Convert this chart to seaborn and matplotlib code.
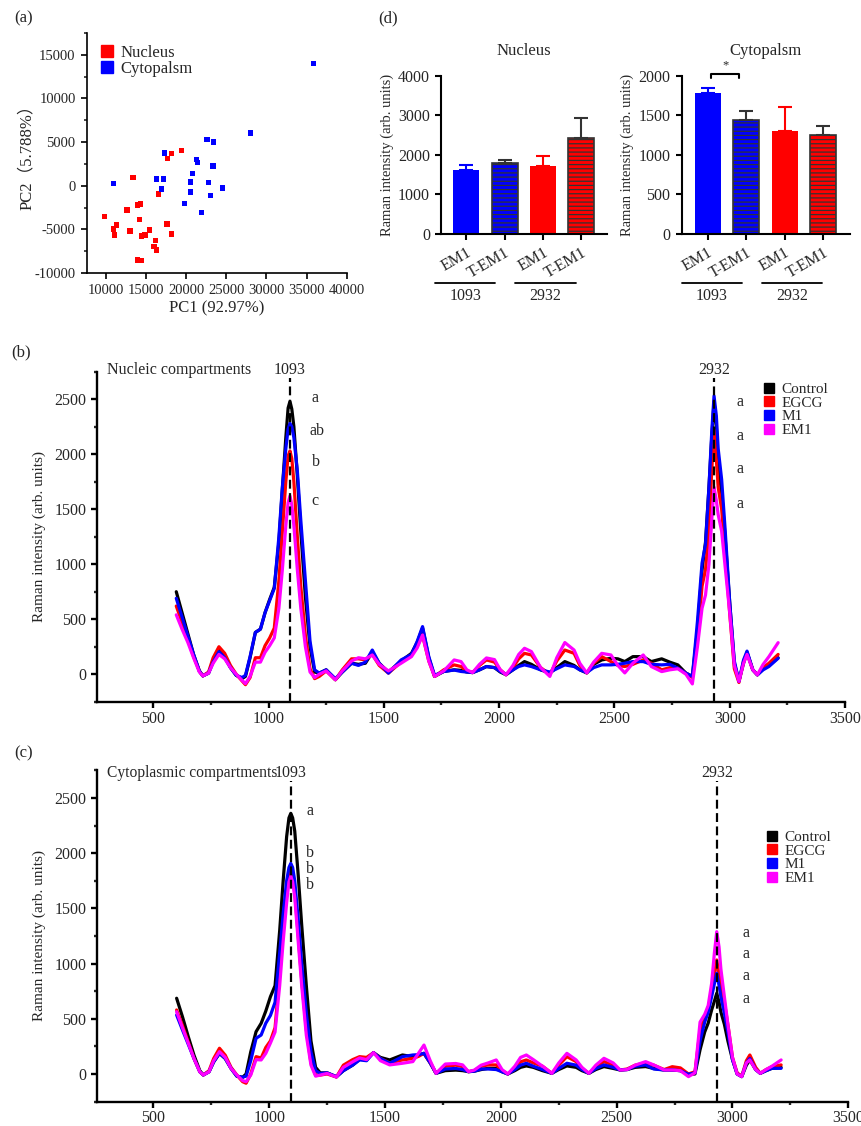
import numpy as np
import pandas as pd
import matplotlib
matplotlib.use('Agg')
import matplotlib.pyplot as plt
import seaborn as sns
from matplotlib.lines import Line2D
from matplotlib.ticker import MultipleLocator

# ---- (a) PCA scores ----
nuc_pc1 = [9792, 10914, 11080, 11330, 12618, 12992, 13365, 13947, 14280, 14155, 13947, 14362,
           14404, 14861, 15402, 16150, 15983, 16274, 16565, 17604, 18144, 17687, 18185, 19432]
nuc_pc2 = [-3524, -4979, -5630, -4519, -2758, -5171, 958, -2183, -2107, -3868, -8503, -8579,
           -5745, -5630, -5056, -6281, -6971, -7354, -958, -4366, -5554, 3102, 3677, 4022]
cyt_pc1 = [10956, 16316, 17147, 16898, 17271, 19806, 20762, 20513, 20555, 21260, 21427, 21925,
           22590, 23380, 22798, 23006, 23338, 24543, 28033, 35844]
cyt_pc2 = [268, 766, 766, -345, 3753, -2030, 1379, 421, -689, 3026, 2681, -3064,
           5285, 5017, 383, -1111, 2260, -268, 6051, 14018]

# ---- (d) peak intensities ----
bar_keys = ['EM1 1093', 'T-EM1 1093', 'EM1 2932', 'T-EM1 2932']
bar_ticks = ['EM1', 'T-EM1', 'EM1', 'T-EM1']
nuc_bar = [1610, 1805, 1729, 2424]
nuc_err = [127, 59, 237, 500]
cyt_bar = [1785, 1436, 1297, 1255]
cyt_err = [68, 118, 311, 109]

# ---- (b),(c) spectra ----
groups = ['Control', 'EGCG', 'M1', 'EM1']
wn = [600, 625, 650, 675, 700, 715, 740, 760, 785, 810,
      835, 860, 885, 900, 920, 943, 965, 985, 1005, 1025,
      1045, 1060, 1075, 1085, 1093, 1101, 1110, 1125, 1140, 1160, 1180, 1200,
      1220, 1250, 1290, 1320, 1360, 1390, 1420, 1450, 1480, 1520,
      1575, 1620, 1645, 1668, 1695, 1720, 1760, 1805, 1835, 1860,
      1885, 1915, 1945, 1980, 2005, 2030, 2060, 2085, 2110, 2140,
      2180, 2220, 2250, 2285, 2325, 2350, 2380, 2410, 2445, 2485,
      2515, 2545, 2580, 2625, 2660, 2705, 2740, 2775, 2810, 2838,
      2860, 2880, 2895, 2910, 2922, 2932, 2942, 2950, 2965, 2980, 3000, 3020,
      3040, 3060, 3075, 3100, 3120, 3145, 3170, 3210]

nuc_control = [750, 560, 370, 180, 30, -15, 10, 120, 225, 160,
               60, -10, -40, -20, 150, 380, 410, 560, 680, 790,
               1200, 1680, 2150, 2420, 2480, 2410, 2250, 1800, 1300, 700, 250, 20,
               10, 40, -50, 20, 100, 90, 100, 200, 100, 20,
               120, 190, 290, 420, 150, -20, 25, 40, 35, 20,
               15, 40, 70, 60, 20, -5, 40, 80, 115, 90,
               40, 10, 60, 115, 80, 40, 12, 90, 130, 145,
               140, 115, 160, 160, 115, 140, 110, 85, 10, -20,
               400, 950, 1200, 1700, 2150, 2480, 2250, 1900, 1650, 1250, 650, 100,
               -60, 100, 200, 40, -5, 50, 80, 150]
nuc_egcg = [620, 470, 320, 160, 30, -15, 20, 150, 250, 190,
            80, 0, -60, -95, -30, 150, 150, 260, 330, 420,
            850, 1300, 1750, 1985, 2030, 1960, 1750, 1250, 800, 350, 50, -40,
            -20, 30, -50, 40, 140, 140, 130, 180, 80, 10,
            110, 170, 260, 350, 120, -20, 40, 85, 70, 30,
            15, 80, 130, 110, 40, -5, 60, 140, 190, 175,
            60, 0, 120, 220, 190, 80, 12, 100, 160, 115,
            80, 70, 90, 130, 100, 40, 60, 55, 10, -30,
            300, 800, 950, 1300, 1850, 2220, 1950, 1700, 1500, 1100, 550, 50,
            -75, 120, 190, 40, -6, 60, 100, 180]
nuc_m1 = [690, 520, 350, 180, 30, -15, 10, 110, 205, 150,
          60, -10, -30, -10, 160, 380, 410, 560, 670, 780,
          1250, 1700, 2050, 2230, 2280, 2250, 2150, 1850, 1400, 850, 300, 40,
          10, 40, -40, 20, 100, 80, 110, 220, 100, 10,
          130, 180, 300, 433, 160, -10, 25, 38, 25, 20,
          15, 40, 70, 60, 25, 0, 40, 70, 85, 70,
          40, 20, 50, 85, 70, 40, 15, 60, 85, 85,
          90, 100, 115, 115, 90, 85, 90, 55, 10, -20,
          480, 1010, 1180, 1700, 2200, 2530, 2350, 2050, 1770, 1320, 650, 120,
          -65, 130, 210, 40, -6, 40, 70, 145]
nuc_em1 = [540, 410, 290, 150, 20, -15, 10, 100, 180, 140,
           60, 0, -55, -85, -20, 110, 110, 200, 260, 330,
           600, 950, 1350, 1560, 1620, 1540, 1350, 950, 600, 250, 20, -30,
           0, 30, -50, 30, 120, 150, 140, 175, 90, 30,
           100, 160, 240, 357, 120, -20, 30, 130, 115, 40,
           15, 90, 148, 133, 40, -6, 80, 180, 236, 206,
           60, -20, 150, 288, 220, 100, 12, 110, 190, 175,
           80, 12, 100, 175, 70, 24, 40, 50, 0, -88,
           250, 600, 720, 1000, 1400, 1700, 1580, 1450, 1300, 980, 560, 80,
           -65, 100, 180, 40, -5, 90, 160, 287]

cyt_control = [686, 520, 340, 170, 30, -9, 20, 110, 187, 140,
               50, -20, -30, 0, 200, 383, 459, 570, 700, 800,
               1300, 1750, 2150, 2320, 2361, 2320, 2200, 1800, 1350, 800, 300, 60,
               10, 10, -25, 30, 80, 133, 130, 193, 150, 127,
               172, 157, 170, 187, 100, 6, 30, 35, 30, 21,
               25, 40, 51, 51, 20, 0, 30, 60, 73, 60,
               30, 6, 40, 73, 60, 30, 6, 40, 67, 50,
               36, 40, 60, 67, 50, 36, 36, 30, -3, 0,
               220, 380, 460, 580, 660, 731, 650, 560, 450, 300, 130, 0,
               -24, 80, 127, 40, 6, 30, 51, 60]
cyt_egcg = [580, 440, 290, 140, 20, -9, 30, 140, 233, 170,
            60, -10, -70, -84, 0, 157, 145, 240, 300, 420,
            900, 1300, 1650, 1810, 1850, 1800, 1650, 1250, 850, 400, 100, -10,
            -10, 0, -28, 80, 130, 157, 150, 193, 140, 100,
            127, 140, 160, 187, 100, 6, 70, 80, 67, 21,
            30, 70, 82, 82, 30, 0, 50, 110, 127, 100,
            70, 6, 80, 157, 112, 50, 6, 60, 112, 80,
            36, 45, 80, 100, 80, 40, 66, 55, 0, 20,
            400, 510, 600, 730, 900, 1033, 900, 800, 650, 450, 150, 10,
            -20, 120, 172, 60, 6, 40, 66, 82]
cyt_m1 = [534, 400, 270, 140, 20, -9, 20, 110, 187, 140,
          50, -20, -30, -20, 120, 323, 353, 460, 530, 650,
          1100, 1450, 1750, 1870, 1908, 1870, 1750, 1400, 1000, 550, 200, 30,
          5, 10, -25, 30, 80, 127, 120, 193, 140, 97,
          157, 172, 175, 187, 100, 6, 45, 50, 40, 21,
          25, 45, 45, 40, 20, 0, 40, 80, 97, 70,
          40, 6, 50, 97, 80, 40, 6, 50, 82, 60,
          36, 40, 70, 82, 45, 36, 36, 30, -3, 10,
          300, 470, 560, 700, 820, 912, 800, 700, 550, 380, 130, 0,
          -24, 100, 140, 40, 6, 30, 51, 51]
cyt_em1 = [564, 420, 280, 140, 20, -9, 20, 120, 202, 150,
           50, -10, -60, -70, -10, 130, 127, 187, 280, 380,
           800, 1200, 1550, 1740, 1790, 1740, 1600, 1200, 800, 350, 80, -20,
           -10, 5, -28, 60, 110, 145, 130, 193, 120, 82,
           97, 112, 190, 262, 120, 6, 90, 95, 82, 21,
           35, 80, 100, 127, 40, 0, 70, 150, 172, 130,
           70, 6, 100, 187, 127, 60, 6, 80, 142, 100,
           36, 40, 80, 112, 82, 36, 36, 30, -24, 10,
           470, 540, 620, 821, 1100, 1289, 1150, 950, 700, 450, 150, 0,
           -24, 100, 127, 40, 6, 40, 70, 127]

spec_colors = {'Control': '#000000', 'EGCG': '#ff0000', 'M1': '#0000ff', 'EM1': '#ff00ff'}

sns.set_style('ticks')
plt.rcParams['font.family'] = ['Liberation Serif', 'Noto Sans CJK SC', 'DejaVu Sans']
plt.rcParams['hatch.linewidth'] = 0.9
plt.rcParams['axes.unicode_minus'] = False

fig = plt.figure(figsize=(8.62, 11.26), dpi=100)

def style_axis(ax, lw=1.5, pad=3.5):
    for s in ['top', 'right']:
        ax.spines[s].set_visible(False)
    for s in ['left', 'bottom']:
        ax.spines[s].set_linewidth(lw)
        ax.spines[s].set_color('black')
    ax.tick_params(which='major', direction='out', length=4.5, width=lw, labelsize=11.5, color='black', pad=pad)
    ax.tick_params(which='minor', direction='out', length=2.5, width=lw)

# ---------------- (a) ----------------
ax = fig.add_axes([0.1006, 0.7575, 0.3016, 0.2132])
pca = pd.DataFrame({'PC1': nuc_pc1 + cyt_pc1, 'PC2': nuc_pc2 + cyt_pc2,
                    'grp': ['Nucleus'] * len(nuc_pc1) + ['Cytopalsm'] * len(cyt_pc1)})
sns.scatterplot(data=pca, x='PC1', y='PC2', hue='grp', palette={'Nucleus': '#ff0000', 'Cytopalsm': '#0000ff'},
                marker='s', s=16, linewidth=0, legend=False, ax=ax)
ax.set_xlim(7600, 40000)
ax.set_ylim(-10000, 17500)
ax.set_xticks([10000, 15000, 20000, 25000, 30000, 35000, 40000])
ax.set_yticks([-10000, -5000, 0, 5000, 10000, 15000])
ax.yaxis.set_minor_locator(MultipleLocator(2500))
style_axis(ax, 1.2)
ax.tick_params(labelsize=10.5)
ax.set_xlabel('PC1 (92.97%)', fontsize=12, labelpad=2)
ax.set_ylabel('PC2（5.788%）', fontsize=12, labelpad=0)
hnd = [Line2D([], [], marker='s', ls='', color='#ff0000', markersize=9),
       Line2D([], [], marker='s', ls='', color='#0000ff', markersize=9)]
ax.legend(hnd, ['Nucleus', 'Cytopalsm'], loc='upper left', bbox_to_anchor=(0.0, 1.0), frameon=False,
          fontsize=12, handletextpad=0.3, labelspacing=0.0, borderpad=0.2, handlelength=1.0)

# ---------------- (d) ----------------
def bar_panel(rect, vals, errs, ylim, yticks, title, xlim, seg, grp_x, sig=False):
    ax = fig.add_axes(rect)
    sns.barplot(x=bar_keys, y=vals, hue=bar_keys, palette=['#0000ff', '#0000ff', '#ff0000', '#ff0000'],
                saturation=1, width=0.68, legend=False, ax=ax)
    for i, p in enumerate(ax.patches):
        if i in (1, 3):
            p.set_hatch('----')
            p.set_edgecolor('#333333')
            p.set_linewidth(1.2)
        else:
            p.set_linewidth(0)
    ecols = ['#0000ff', '#333333', '#ff0000', '#333333']
    for i in range(4):
        ax.errorbar(i, vals[i], yerr=[[0], [errs[i]]], fmt='none', ecolor=ecols[i],
                    elinewidth=1.5, capsize=5, capthick=1.5, zorder=1)
    ax.set_xlim(*xlim)
    ax.set_ylim(*ylim)
    ax.set_yticks(yticks)
    ax.set_xticks(range(4))
    ax.set_xticklabels(bar_ticks, rotation=30, ha='right', rotation_mode='anchor')
    style_axis(ax, 1.5)
    ax.set_ylabel('Raman intensity (arb. units)', fontsize=10.5, labelpad=3)
    ax.set_title(title, fontsize=12, pad=15)
    tr = ax.get_xaxis_transform()
    for (a, b), gx, lab in zip(seg, grp_x, ['1093', '2932']):
        ax.plot([a, b], [-0.31, -0.31], color='black', lw=1.3, transform=tr, clip_on=False)
        ax.text(gx, -0.345, lab, transform=tr, ha='center', va='top', fontsize=11.5)
    if sig:
        ax.plot([0.09, 0.09, 0.82, 0.82], [1972, 2025, 2025, 1972], color='black', lw=1.5, clip_on=False)
        ax.text(0.46, 2060, '*', ha='center', va='bottom', fontsize=9)
    return ax

bar_panel([0.5116, 0.7925, 0.1929, 0.14], nuc_bar, nuc_err, (0, 4000), [0, 1000, 2000, 3000, 4000],
          'Nucleus', (-0.66, 3.68), [(-0.82, 0.76), (1.27, 2.86)], [-0.03, 2.05])
bar_panel([0.7908, 0.7925, 0.1953, 0.14], cyt_bar, cyt_err, (0, 2000), [0, 500, 1000, 1500, 2000],
          'Cytopalsm', (-0.68, 3.7), [(-0.68, 0.89), (1.41, 2.98)], [0.10, 2.19], sig=True)

# ---------------- (b), (c) ----------------
def spec_panel(rect, series, title, ylim, letters_l, letters_r, lab_y, dash_top, leg_y, title_fs=11.5):
    ax = fig.add_axes(rect)
    df = pd.DataFrame({'wn': wn * 4, 'I': sum(series, []),
                       'grp': np.repeat(groups, len(wn))})
    sns.lineplot(data=df, x='wn', y='I', hue='grp', hue_order=groups, palette=spec_colors,
                 estimator=None, lw=2.3, legend=False, ax=ax)
    ax.set_xlim(255, 3500)
    ax.set_ylim(*ylim)
    ax.set_xticks([500, 1000, 1500, 2000, 2500, 3000, 3500])
    ax.set_yticks([0, 500, 1000, 1500, 2000, 2500])
    ax.xaxis.set_minor_locator(MultipleLocator(250))
    ax.yaxis.set_minor_locator(MultipleLocator(250))
    style_axis(ax, 1.7, pad=1.5)
    ax.tick_params(axis='y', pad=3)
    ax.set_xlabel('')
    ax.set_ylabel('Raman intensity (arb. units)', fontsize=11, labelpad=6)
    for xv in (1093, 2932):
        ax.plot([xv, xv], [ylim[0], dash_top], color='black', ls=(0, (4, 2)), lw=1.6, zorder=5)
        ax.text(xv, lab_y, str(xv), ha='center', va='center', fontsize=11.5, clip_on=False)
    ax.text(0.014, lab_y, title, transform=ax.get_yaxis_transform(), ha='left', va='center', fontsize=title_fs)
    for (xx, yy, s) in letters_l + letters_r:
        ax.text(xx, yy, s, ha='left', va='center', fontsize=11.5)
    hnd = [Line2D([], [], marker='s', ls='', color=spec_colors[g], markersize=7.5) for g in groups]
    ax.legend(hnd, groups, loc='upper left', bbox_to_anchor=(0.876, leg_y), frameon=False, fontsize=11,
              handletextpad=0.4, labelspacing=0.0, borderpad=0.2, handlelength=0.8)
    return ax

spec_panel([0.1122, 0.3763, 0.8681, 0.2936], [nuc_control, nuc_egcg, nuc_m1, nuc_em1],
           'Nucleic compartments', (-255, 2750),
           [(1188, 2515, 'a'), (1178, 2215, 'ab'), (1188, 1930, 'b'), (1188, 1575, 'c')],
           [(3030, 2478, 'a'), (3030, 2166, 'a'), (3030, 1864, 'a'), (3030, 1545, 'a')],
           2765, 2690, 1.0)
spec_panel([0.1122, 0.0216, 0.8719, 0.2946], [cyt_control, cyt_egcg, cyt_m1, cyt_em1],
           'Cytoplasmic compartments', (-251, 2754),
           [(1160, 2382, 'a'), (1160, 1999, 'b'), (1160, 1854, 'b'), (1160, 1709, 'b')],
           [(3045, 1274, 'a'), (3045, 1087, 'a'), (3045, 888, 'a'), (3045, 682, 'a')],
           2730, 2650, 0.85, title_fs=11.2)

for (xx, yy, s) in [(0.027, 0.984, '(a)'), (0.450, 0.984, '(d)'), (0.024, 0.687, '(b)'), (0.027, 0.331, '(c)')]:
    fig.text(xx, yy, s, ha='center', va='center', fontsize=12)

fig.savefig('out.png', dpi=100)
